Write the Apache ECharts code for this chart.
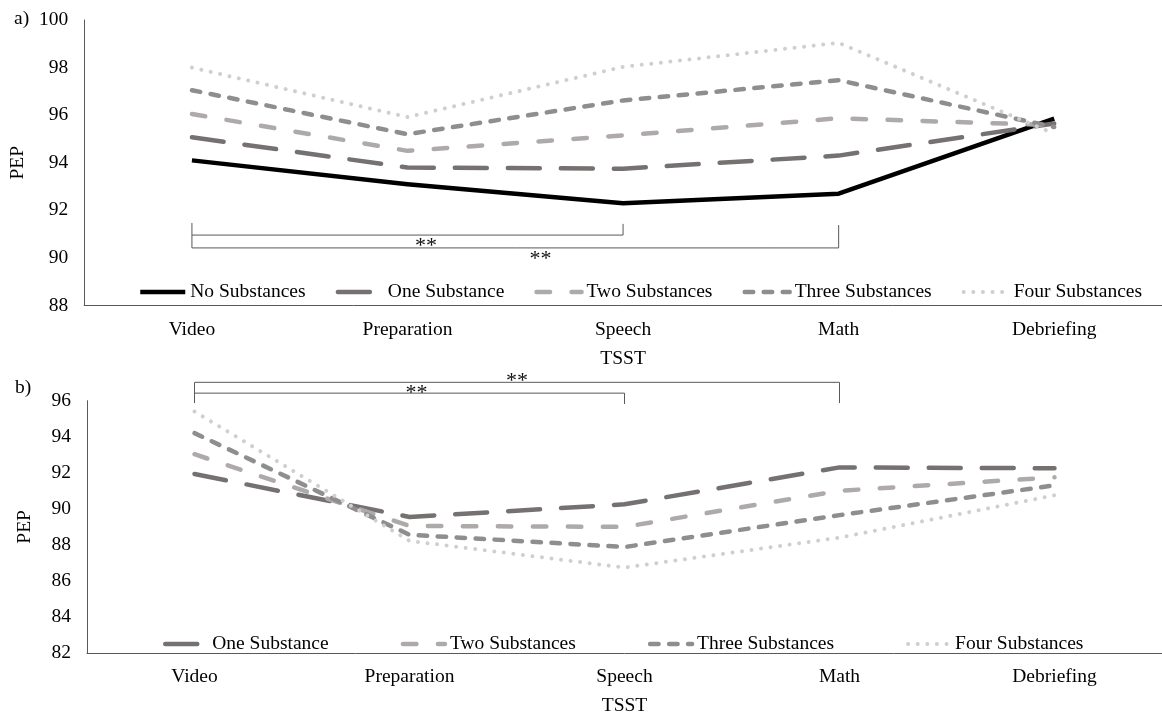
<!DOCTYPE html>
<html><head><meta charset="utf-8">
<script src="https://cdn.jsdelivr.net/npm/echarts@6/dist/echarts.min.js"></script>
<style>html,body{margin:0;padding:0;background:#fff}#c{width:1162px;height:717px}</style>
</head><body><div id="c"></div>
<script>
// ---------- data ----------
const categories = ['Video', 'Preparation', 'Speech', 'Math', 'Debriefing'];

// Panel a)
const a_noSubstances    = [94.1, 93.1, 92.3, 92.7, 95.85];
const a_oneSubstance    = [95.07, 93.8, 93.75, 94.3, 95.65];
const a_twoSubstances   = [96.05, 94.5, 95.15, 95.87, 95.58];
const a_threeSubstances = [97.05, 95.2, 96.62, 97.47, 95.5];
const a_fourSubstances  = [98.0, 95.92, 98.03, 99.04, 95.22];

// Panel b)
const b_oneSubstance    = [91.93, 89.55, 90.25, 92.3, 92.25];
const b_twoSubstances   = [93.03, 89.05, 89.0, 91.0, 91.75];
const b_threeSubstances = [94.2, 88.56, 87.88, 89.65, 91.3];
const b_fourSubstances  = [95.4, 88.22, 86.74, 88.4, 90.75];

// y-axis ranges [min, max, interval]
const a_yRange = [88, 100, 2];
const b_yRange = [82, 96, 2];

// significance brackets: [fromIdx, toIdx, lineValue, tickEndValue, labelFraction, labelValue]
const a_brackets = [[0, 2, 90.96, 91.43, 0.543, 90.50], [0, 3, 90.42, 91.38, 0.539, 89.95]];
const a_stem = [[0, 91.47, 90.42]];
const b_brackets = [[0, 3, 97.02, 95.87, 0.50, 97.07], [0, 2, 96.42, 95.82, 0.516, 96.42]];
const b_stem = [[0, 97.02, 95.87]];
const sigLabel = '**';

// ---------- styles ----------
const FONT = 'Liberation Serif';
const styles = {
  'No Substances':    {color: '#000000', width: 4.5, type: 'solid', cap: 'butt'},
  'One Substance':    {color: '#767171', width: 4.5, type: [32, 21], cap: 'round'},
  'Two Substances':   {color: '#AEAAAA', width: 4.5, type: [13.5, 21.5], cap: 'round'},
  'Three Substances': {color: '#8E8E8E', width: 4.5, type: [8.5, 10.5], cap: 'round'},
  'Four Substances':  {color: '#D0CECE', width: 4, type: [0.01, 9.6], cap: 'round'}
};

function lineSeries(name, data, idx) {
  const s = styles[name];
  return {
    name, type: 'line', data, xAxisIndex: idx, yAxisIndex: idx,
    symbol: 'none', smooth: false, z: 3,
    lineStyle: {color: s.color, width: s.width, type: s.type, cap: s.cap, join: 'round'},
    itemStyle: {color: s.color},
    emphasis: {disabled: true}
  };
}

function bracketRender(params, api) {
  const pA = api.coord([api.value(0), api.value(2)]);
  const pB = api.coord([api.value(1), api.value(2)]);
  const pC = api.coord([api.value(1), api.value(3)]);
  const frac = api.value(4);
  const pL = api.coord([api.value(0), api.value(5)]);
  const lx = pA[0] + frac * (pB[0] - pA[0]);
  return {type: 'group', children: [
    {type: 'polyline', shape: {points: [pA, pB, pC]}, style: {stroke: '#595959', lineWidth: 1, fill: null}},
    {type: 'text', x: lx, y: pL[1], style: {text: sigLabel, fill: '#111', font: '22px "' + FONT + '"', align: 'center', verticalAlign: 'middle'}}
  ]};
}
function stemRender(params, api) {
  const p1 = api.coord([api.value(0), api.value(1)]);
  const p2 = api.coord([api.value(0), api.value(2)]);
  return {type: 'line', shape: {x1: p1[0], y1: p1[1], x2: p2[0], y2: p2[1]}, style: {stroke: '#595959', lineWidth: 1}};
}

const axisLine = {show: true, lineStyle: {color: '#595959', width: 1}};
const labelStyle = {fontFamily: FONT, fontSize: 19.5, color: '#000'};

function xAxis(gridIndex) {
  return {
    type: 'category', gridIndex, data: categories, boundaryGap: true,
    axisLine, axisTick: {show: false}, splitLine: {show: false},
    axisLabel: Object.assign({margin: 14, interval: 0}, labelStyle),
    name: 'TSST', nameLocation: 'middle', nameGap: 43, nameTextStyle: labelStyle
  };
}
function yAxis(gridIndex, r) {
  return {
    type: 'value', gridIndex, min: r[0], max: r[1], interval: r[2],
    axisLine, axisTick: {show: false}, splitLine: {show: false},
    axisLabel: Object.assign({margin: 16}, labelStyle),
    name: 'PEP', nameLocation: 'middle', nameRotate: 90, nameGap: 52, nameTextStyle: labelStyle
  };
}

function legendData(names) {
  return names.map(n => ({name: n, lineStyle: {width: styles[n].width, type: styles[n].type, cap: styles[n].cap, color: styles[n].color}}));
}

const chart = echarts.init(document.getElementById('c'), null, {renderer: 'canvas'});
chart.setOption({
  animation: false,
  backgroundColor: '#fff',
  grid: [
    {left: 81, top: 20, width: 1084, height: 285.5},
    {left: 87, top: 400.7, width: 1080, height: 256}
  ],
  xAxis: [xAxis(0), xAxis(1)],
  yAxis: [yAxis(0, a_yRange), yAxis(1, b_yRange)],
  legend: [
    {
      data: legendData(['No Substances', 'One Substance', 'Two Substances', 'Three Substances', 'Four Substances']),
      left: 133, top: 277, itemWidth: 45, itemHeight: 14, itemGap: 30,
      itemStyle: {opacity: 0}, textStyle: labelStyle, selectedMode: false
    },
    {
      data: legendData(['One Substance', 'Two Substances', 'Three Substances', 'Four Substances']),
      left: 158, top: 629, itemWidth: 42, itemHeight: 14, itemGap: 72,
      itemStyle: {opacity: 0}, textStyle: labelStyle, selectedMode: false
    }
  ],
  graphic: [
    {type: 'text', left: 14, top: 9, style: {text: 'a)', font: '19.5px "' + FONT + '"', fill: '#000'}},
    {type: 'text', left: 15, top: 378, style: {text: 'b)', font: '19.5px "' + FONT + '"', fill: '#000'}}
  ],
  series: [
    lineSeries('No Substances', a_noSubstances, 0),
    lineSeries('One Substance', a_oneSubstance, 0),
    lineSeries('Two Substances', a_twoSubstances, 0),
    lineSeries('Three Substances', a_threeSubstances, 0),
    lineSeries('Four Substances', a_fourSubstances, 0),
    lineSeries('One Substance', b_oneSubstance, 1),
    lineSeries('Two Substances', b_twoSubstances, 1),
    lineSeries('Three Substances', b_threeSubstances, 1),
    lineSeries('Four Substances', b_fourSubstances, 1),
    {name: 'sigA', type: 'custom', xAxisIndex: 0, yAxisIndex: 0, data: a_brackets, renderItem: bracketRender, clip: false, silent: true, z: 2},
    {name: 'stemA', type: 'custom', xAxisIndex: 0, yAxisIndex: 0, data: a_stem, renderItem: stemRender, clip: false, silent: true, z: 2},
    {name: 'sigB', type: 'custom', xAxisIndex: 1, yAxisIndex: 1, data: b_brackets, renderItem: bracketRender, clip: false, silent: true, z: 2},
    {name: 'stemB', type: 'custom', xAxisIndex: 1, yAxisIndex: 1, data: b_stem, renderItem: stemRender, clip: false, silent: true, z: 2}
  ]
});
</script>
</body></html>
